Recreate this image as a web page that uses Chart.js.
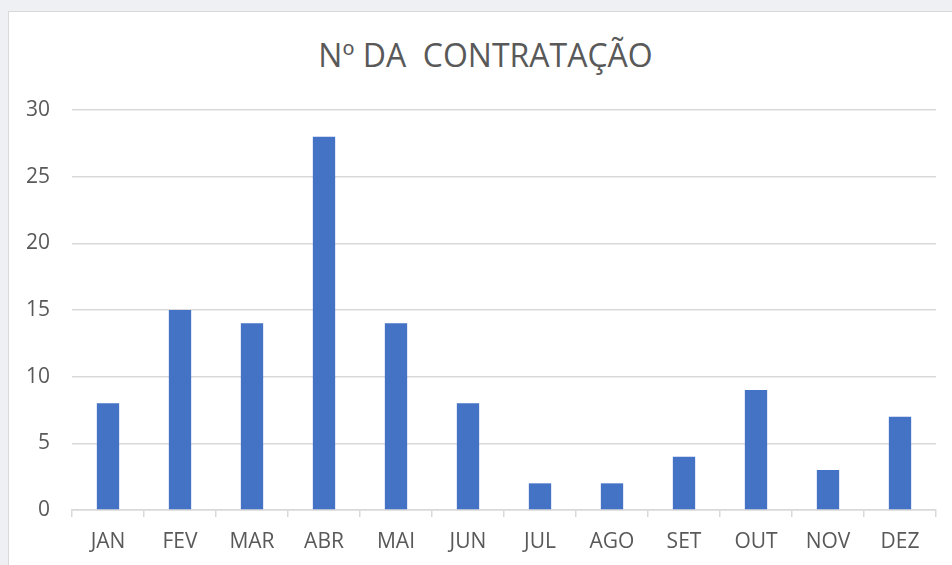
<!DOCTYPE html>
<html>
<head>
<meta charset="utf-8">
<script src="https://cdn.jsdelivr.net/npm/chart.js@4.4.1/dist/chart.umd.min.js"></script>
<style>
  html, body { margin:0; padding:0; }
  body { width:952px; height:565px; overflow:hidden; background:#eef0f3; position:relative; }
  #box { position:absolute; left:8px; top:11px; width:960px; height:570px; background:#fff; border:1px solid #d9d9d9; }
  #title { position:absolute; left:0; top:33px; width:971px; text-align:center; white-space:pre;
    font-family:'Open Sans', sans-serif; font-size:32px; color:#595959; }
  #c { position:absolute; left:0; top:0; }
</style>
</head>
<body>
<div id="box"></div>
<div id="title">Nº DA  CONTRATAÇÃO</div>
<canvas id="c" width="952" height="565"></canvas>
<script>
const MONTHS = ['JAN','FEV','MAR','ABR','MAI','JUN','JUL','AGO','SET','OUT','NOV','DEZ'];
const CONTRATACOES = [8, 15, 14, 28, 14, 8, 2, 2, 4, 9, 3, 7];
const Y_MIN = 0, Y_MAX = 30, Y_STEP = 5;

const GRID = '#d9d9d9';
const TEXT = '#595959';
const FONT = { family: "'Open Sans', sans-serif", size: 21 };

new Chart(document.getElementById('c'), {
  type: 'bar',
  data: {
    labels: MONTHS,
    datasets: [{
      label: 'Nº DA CONTRATAÇÃO',
      data: CONTRATACOES,
      backgroundColor: '#4472c4',
      barPercentage: 0.31,
      categoryPercentage: 1,
    }],
  },
  options: {
    responsive: false,
    animation: false,
    layout: { padding: { left: 0, top: 110, right: 16, bottom: 0 } },
    plugins: { legend: { display: false }, tooltip: { enabled: false } },
    scales: {
      x: {
        grid: { drawOnChartArea: false, drawTicks: true, tickLength: 7, color: GRID, lineWidth: 1.5 },
        border: { display: true, color: GRID, width: 1.5 },
        ticks: { color: TEXT, font: FONT, padding: 12, maxRotation: 0 },
        afterFit: (s) => { s.height = 55; },
      },
      y: {
        min: Y_MIN, max: Y_MAX,
        grid: { color: GRID, lineWidth: 1.5, drawTicks: false },
        border: { display: false },
        ticks: { stepSize: Y_STEP, color: TEXT, font: FONT, padding: 22 },
        afterFit: (s) => { s.width = 72; },
      },
    },
  },
});
</script>
</body>
</html>
